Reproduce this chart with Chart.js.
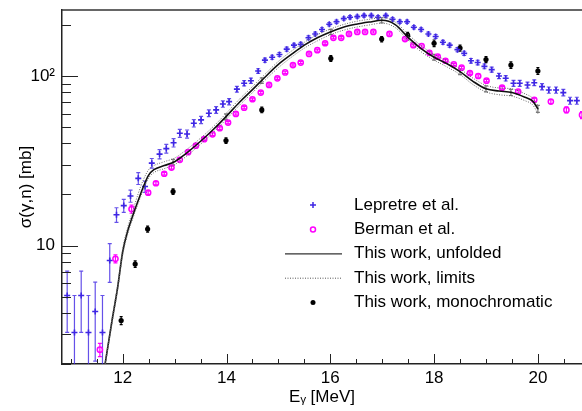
<!DOCTYPE html>
<html>
<head>
<meta charset="utf-8">
<script src="https://cdn.jsdelivr.net/npm/chart.js@4.4.1/dist/chart.umd.min.js"></script>
<style>
  html, body { margin: 0; padding: 0; background: #fff; }
  canvas { display: block; }
</style>
</head>
<body>
<canvas id="xs" width="582" height="411"></canvas>
<script>
// --- values (E in MeV, sigma in mb) ---
const lepE = [10.93, 11.07, 11.20, 11.34, 11.47, 11.61, 11.75, 11.88, 12.02, 12.15, 12.30, 12.43,
  12.56, 12.71, 12.84, 12.98, 13.10, 13.24, 13.37, 13.51, 13.66, 13.80, 13.93, 14.05, 14.20, 14.34,
  14.47, 14.61, 14.74, 14.88, 15.02, 15.16, 15.30, 15.43, 15.58, 15.71, 15.84, 15.98, 16.12, 16.26,
  16.38, 16.52, 16.65, 16.79, 16.92, 17.07, 17.20, 17.34, 17.48, 17.61, 17.75, 17.89, 18.03, 18.17,
  18.30, 18.45, 18.58, 18.71, 18.84, 18.97, 19.11, 19.25, 19.38, 19.53, 19.65, 19.80, 19.93, 20.08,
  20.21, 20.35, 20.49, 20.62, 20.75];
const lepSigma = [5.07, 3.07, 5.07, 3.07, 4.08, 3.07, 8.16, 15.2, 17.2, 19.6, 24.9, 22.3,
  30.6, 34.6, 37.3, 40.4, 45.9, 45.5, 52.6, 55.1, 60.3, 63.1, 68.4, 70.6, 83.6, 90.6,
  93.8, 107, 124, 129, 134, 144, 152, 154, 168, 177, 188, 202, 209, 218,
  222, 224, 227, 227, 222, 227, 216, 209, 209, 194, 188, 177, 171, 158,
  152, 143, 136, 123, 120, 114, 109, 100, 97, 90.5, 90.5, 88.5, 91.3, 86.5,
  82.6, 82.6, 79.8, 71.5, 71.5];
const lepErr = [2.0, 2.0, 2.0, 2.0, 2.0, 2.0, 2.1, 1.5, 1.5, 1.6, 2.0, 1.7,
  2.0, 2.2, 2.2, 2.3, 2.5, 2.5, 2.6, 2.7, 2.8, 2.9, 3.0, 3.0, 3.2, 3.2,
  3.3, 3.3, 3.5, 3.5, 3.6, 3.8, 4.0, 4.0, 4.2, 4.3, 4.5, 4.6, 4.7, 4.8,
  4.8, 4.8, 4.8, 4.8, 4.8, 4.8, 4.7, 4.6, 4.6, 4.5, 4.4, 4.3, 4.2, 4.0,
  4.0, 4.0, 3.9, 3.8, 3.8, 3.7, 3.7, 3.6, 3.6, 3.6, 3.6, 3.6, 3.6, 3.6,
  3.5, 3.5, 3.5, 3.4, 3.4];

const bermE = [11.56, 11.86, 12.17, 12.49, 12.64, 12.80, 12.94, 13.10, 13.26, 13.41, 13.57, 13.73,
  13.87, 14.03, 14.18, 14.34, 14.50, 14.66, 14.82, 14.98, 15.13, 15.28, 15.43, 15.59, 15.75, 15.90,
  16.06, 16.21, 16.36, 16.52, 16.67, 16.83, 17.14, 17.44, 17.60, 17.76, 17.91, 18.07, 18.22, 18.38,
  18.53, 18.69, 18.85, 19.01, 19.31, 19.62, 19.93, 20.25, 20.55, 20.85];
const bermSigma = [2.43, 8.35, 16.4, 20.5, 23.3, 26.5, 28.8, 32.0, 35.5, 38.8, 42.4, 45.3,
  49.2, 53.1, 59.7, 65.0, 72.9, 79.8, 88.5, 96.9, 105, 116, 120, 135, 142, 156,
  168, 168, 177, 182, 182, 182, 177, 165, 152, 150, 137, 130, 123, 117,
  112, 104, 100, 93.8, 85.3, 80.8, 72.3, 70.6, 63.1, 58.9];
const bermErr = [0.22, 0.45, 0.9, 0.5, 0.5, 0.5, 0.6, 0.6, 0.7, 0.7, 0.8, 0.8,
  0.9, 0.9, 1.0, 1.1, 1.2, 1.3, 1.4, 1.5, 1.6, 1.8, 1.8, 2.0, 2.1, 2.3,
  2.5, 2.5, 2.6, 2.7, 2.7, 2.7, 2.7, 2.5, 2.3, 2.3, 2.1, 2.0, 1.9, 1.8,
  1.8, 1.7, 1.7, 1.6, 1.6, 1.6, 1.6, 1.8, 2.6, 2.8];

const unfE = [11.66, 11.80, 11.90, 12.00, 12.10, 12.20, 12.30, 12.40, 12.50, 12.60, 12.80, 13.00,
  13.20, 13.50, 13.75, 14.00, 14.25, 14.50, 14.75, 15.00, 15.25, 15.50, 15.75, 16.00, 16.25,
  16.50, 16.75, 17.00, 17.25, 17.50, 17.75, 18.00, 18.25, 18.50, 18.75, 19.00, 19.25, 19.50,
  19.75, 19.90, 20.00];
const unfSigma = [2.0, 3.7, 5.6, 9.2, 12.3, 15.2, 18.5, 22.3, 26.0, 28.0, 29.6, 31.2,
  34.5, 41.2, 48.5, 58, 70, 83, 99, 117, 134, 152, 168, 182, 194,
  202, 208, 213, 201, 169, 145, 129, 118, 106, 93, 84, 81.5, 80,
  75, 71, 64];
const unfUpper = [2.0, 3.8, 5.8, 9.6, 12.9, 16.2, 20.3, 24.5, 28.0, 29.6, 31.2, 32.8,
  36.2, 43.0, 50.5, 60.5, 73, 86.5, 103, 122, 140, 158, 175, 189, 201,
  210, 216, 221, 208, 176, 151, 134, 123, 110, 97, 88, 85, 84,
  78.5, 74, 67];
const unfLower = [1.95, 3.55, 5.4, 8.8, 11.8, 14.6, 17.8, 21.4, 25.0, 26.9, 28.4, 30.0,
  33.1, 39.6, 46.6, 55.7, 67.2, 79.7, 95, 112, 129, 146, 161, 175, 186,
  194, 200, 205, 193, 163, 139, 124, 113, 102, 89, 80.5, 77.5, 76,
  71.5, 67.5, 60];

// unfolded result read at the monochromatic energies (small grey error marks on the curve)
const unfPtE = [12.97, 13.99, 14.68, 16.01, 16.99, 17.49, 18.00, 18.50, 19.00, 19.48, 20.00];
const unfPtSigma = [31.0, 57.5, 94, 182, 213, 170, 129, 106, 84, 80, 64];
const unfPtErr = [1.2, 2.2, 3.5, 6.5, 7.5, 6.5, 5.0, 4.2, 3.5, 3.3, 3.0];

const monoE = [11.97, 12.24, 12.48, 12.97, 13.99, 14.68, 16.01, 16.99, 17.49, 18.00, 18.50, 19.00, 19.48, 20.00];
const monoSigma = [3.61, 7.77, 12.5, 20.8, 41.6, 63.1, 127, 165, 174, 156, 146, 125, 116, 107];
const monoErr = [0.2, 0.35, 0.5, 0.8, 1.6, 2.4, 5, 6, 7, 7, 6, 5, 5, 5];

// axes
const xMin = 10.83, xMax = 20.85;
const yMin = 2, yMax = 245;
const xTickVals = [11, 11.5, 12, 12.5, 13, 13.5, 14, 14.5, 15, 15.5, 16, 16.5, 17, 17.5, 18, 18.5, 19, 19.5, 20, 20.5];
const xLabelVals = [12, 14, 16, 18, 20];
const yTickVals = [2, 3, 4, 5, 6, 7, 8, 9, 10, 20, 30, 40, 50, 60, 70, 80, 90, 100, 200];
const yLabelVals = [10, 100];
const yLabelText = ['10', '10\u00B2'];

const legendLabels = ['Lepretre et al.', 'Berman et al.', 'This work, unfolded', 'This work, limits', 'This work, monochromatic'];

const BLUE = 'rgb(62, 38, 228)';
const MAGENTA = 'rgb(255, 0, 255)';
const FONT = 'Liberation Sans, Arial, Helvetica, sans-serif';

const pts = (xs, ys) => xs.map((x, i) => ({ x: x, y: ys[i] }));

// error bars, drawn under the markers
const errorBars = {
    id: 'errorBars',
    beforeDatasetsDraw(chart) {
        const { ctx, chartArea: a, scales: { x, y } } = chart;
        ctx.save();
        ctx.beginPath();
        ctx.rect(a.left, a.top, a.right - a.left, a.bottom - a.top);
        ctx.clip();
        chart.data.datasets.forEach(ds => {
            if (!ds.errors) return;
            ctx.strokeStyle = ds.errColor;
            ctx.lineWidth = 1.2;
            ds.data.forEach((p, j) => {
                const e = ds.errors[j];
                if (!e) return;
                const px = x.getPixelForValue(p.x);
                const y1 = y.getPixelForValue(p.y + e);
                const y2 = y.getPixelForValue(Math.max(p.y - e, 0.5));
                const c = ds.capHalf;
                ctx.beginPath();
                ctx.moveTo(px, y1); ctx.lineTo(px, y2);
                ctx.moveTo(px - c, y1); ctx.lineTo(px + c, y1);
                ctx.moveTo(px - c, y2); ctx.lineTo(px + c, y2);
                ctx.stroke();
            });
        });
        ctx.restore();
    }
};

// ROOT-like inward ticks + top frame line
const rootFrame = {
    id: 'rootFrame',
    afterDraw(chart) {
        const { ctx, chartArea: a, scales: { x, y } } = chart;
        ctx.save();
        ctx.strokeStyle = '#222';
        ctx.lineWidth = 1;
        x.ticks.forEach(t => {
            const px = Math.round(x.getPixelForValue(t.value)) + 0.5;
            const len = xLabelVals.includes(t.value) ? 10 : 5;
            ctx.beginPath(); ctx.moveTo(px, a.bottom); ctx.lineTo(px, a.bottom - len); ctx.stroke();
        });
        y.ticks.forEach(t => {
            const py = Math.round(y.getPixelForValue(t.value)) + 0.5;
            const len = yLabelVals.includes(t.value) ? 16 : 9;
            ctx.beginPath(); ctx.moveTo(a.left, py); ctx.lineTo(a.left + len, py); ctx.stroke();
        });
        ctx.lineWidth = 1.5;
        ctx.strokeStyle = '#333';
        ctx.beginPath(); ctx.moveTo(a.left, a.top); ctx.lineTo(a.right, a.top); ctx.stroke();
        ctx.restore();
    }
};

// legend box inside the frame
const rootLegend = {
    id: 'rootLegend',
    afterDraw(chart) {
        const ctx = chart.ctx;
        const mx = 313, lx0 = 285, lx1 = 342, tx = 354, y0 = 205, dy = 24.4;
        ctx.save();
        ctx.font = '17px ' + FONT;
        ctx.fillStyle = '#000';
        ctx.textBaseline = 'middle';
        legendLabels.forEach((lab, i) => {
            const yy = y0 + i * dy;
            if (i === 0) {
                ctx.strokeStyle = BLUE; ctx.lineWidth = 1.5;
                ctx.beginPath(); ctx.moveTo(mx - 3, yy); ctx.lineTo(mx + 3, yy);
                ctx.moveTo(mx, yy - 3); ctx.lineTo(mx, yy + 3); ctx.stroke();
            } else if (i === 1) {
                ctx.strokeStyle = MAGENTA; ctx.lineWidth = 1.5;
                ctx.beginPath(); ctx.arc(mx, yy, 2.5, 0, Math.PI * 2); ctx.stroke();
            } else if (i === 2) {
                ctx.strokeStyle = '#333'; ctx.lineWidth = 1.2;
                ctx.beginPath(); ctx.moveTo(lx0, yy); ctx.lineTo(lx1, yy); ctx.stroke();
            } else if (i === 3) {
                ctx.strokeStyle = '#555'; ctx.lineWidth = 1; ctx.setLineDash([1, 1.5]);
                ctx.beginPath(); ctx.moveTo(lx0, yy); ctx.lineTo(lx1, yy); ctx.stroke();
                ctx.setLineDash([]);
            } else {
                ctx.fillStyle = '#000';
                ctx.beginPath(); ctx.arc(mx, yy, 2.5, 0, Math.PI * 2); ctx.fill();
            }
            ctx.fillStyle = '#000';
            ctx.fillText(lab, tx, yy);
        });
        ctx.restore();
    }
};

const noPad = s => { s.paddingLeft = 0; s.paddingRight = 0; s.paddingTop = 0; s.paddingBottom = 0; };

new Chart(document.getElementById('xs'), {
    type: 'scatter',
    data: {
        datasets: [
            {
                label: 'This work, limits (upper)',
                data: pts(unfE, unfUpper),
                showLine: true, borderColor: '#666', borderWidth: 1, borderDash: [1, 1.5],
                pointRadius: 0, cubicInterpolationMode: 'monotone'
            },
            {
                label: 'This work, limits (lower)',
                data: pts(unfE, unfLower),
                showLine: true, borderColor: '#666', borderWidth: 1, borderDash: [1, 1.5],
                pointRadius: 0, cubicInterpolationMode: 'monotone'
            },
            {
                label: 'This work, unfolded',
                data: pts(unfE, unfSigma),
                showLine: true, borderColor: '#111', borderWidth: 1.6,
                pointRadius: 0, cubicInterpolationMode: 'monotone'
            },
            {
                label: 'This work, unfolded (points)',
                data: pts(unfPtE, unfPtSigma),
                errors: unfPtErr, errColor: 'rgba(90,90,90,0.8)', capHalf: 2,
                pointStyle: 'rect', pointRadius: 1.3, borderWidth: 0,
                borderColor: '#777', backgroundColor: '#777'
            },
            {
                label: 'Berman et al.',
                data: pts(bermE, bermSigma),
                errors: bermErr, errColor: MAGENTA, capHalf: 2,
                pointStyle: 'circle', pointRadius: 2.6, borderWidth: 1.5,
                borderColor: MAGENTA, backgroundColor: 'rgba(255,255,255,0)'
            },
            {
                label: 'Lepretre et al.',
                data: pts(lepE, lepSigma),
                errors: lepErr, errColor: 'rgba(62, 38, 228, 0.8)', capHalf: 2,
                pointStyle: 'cross', pointRadius: 3, borderWidth: 1.6,
                borderColor: BLUE, backgroundColor: BLUE
            },
            {
                label: 'This work, monochromatic',
                data: pts(monoE, monoSigma),
                errors: monoErr, errColor: '#000', capHalf: 1.5,
                pointStyle: 'circle', pointRadius: 2.6, borderWidth: 0,
                borderColor: '#000', backgroundColor: '#000'
            }
        ]
    },
    options: {
        responsive: false,
        animation: false,
        devicePixelRatio: 1,
        layout: { autoPadding: false, padding: { top: 10, right: 0, left: 0, bottom: 0 } },
        plugins: { legend: { display: false }, tooltip: { enabled: false } },
        scales: {
            x: {
                type: 'linear', min: xMin, max: xMax,
                afterBuildTicks: s => { s.ticks = xTickVals.map(v => ({ value: v })); },
                afterFit: s => { s.height = 47; noPad(s); },
                ticks: {
                    autoSkip: false, maxRotation: 0, padding: 4, color: '#000',
                    font: { family: FONT, size: 17 },
                    callback: v => xLabelVals.includes(v) ? String(v) : ''
                },
                grid: { display: false, drawTicks: false },
                border: { display: true, color: '#222', width: 1.5 },
                title: {
                    display: true, text: 'E\u1D67 [MeV]', color: '#000',
                    font: { family: FONT, size: 17 }, padding: { top: 0, bottom: 3 }
                }
            },
            y: {
                type: 'logarithmic', min: yMin, max: yMax,
                afterBuildTicks: s => { s.ticks = yTickVals.map(v => ({ value: v })); },
                afterFit: s => { s.width = 62; noPad(s); },
                ticks: {
                    autoSkip: false, padding: 7, color: '#000',
                    font: { family: FONT, size: 17 },
                    callback: v => {
                        const k = yLabelVals.indexOf(v);
                        return k >= 0 ? yLabelText[k] : '';
                    }
                },
                grid: { display: false, drawTicks: false },
                border: { display: true, color: '#222', width: 1.5 },
                title: {
                    display: true, text: '\u03C3(\u03B3,n) [mb]', color: '#000',
                    font: { family: FONT, size: 17 }, padding: { top: 16, bottom: 0 }
                }
            }
        }
    },
    plugins: [errorBars, rootFrame, rootLegend]
});
</script>
</body>
</html>
